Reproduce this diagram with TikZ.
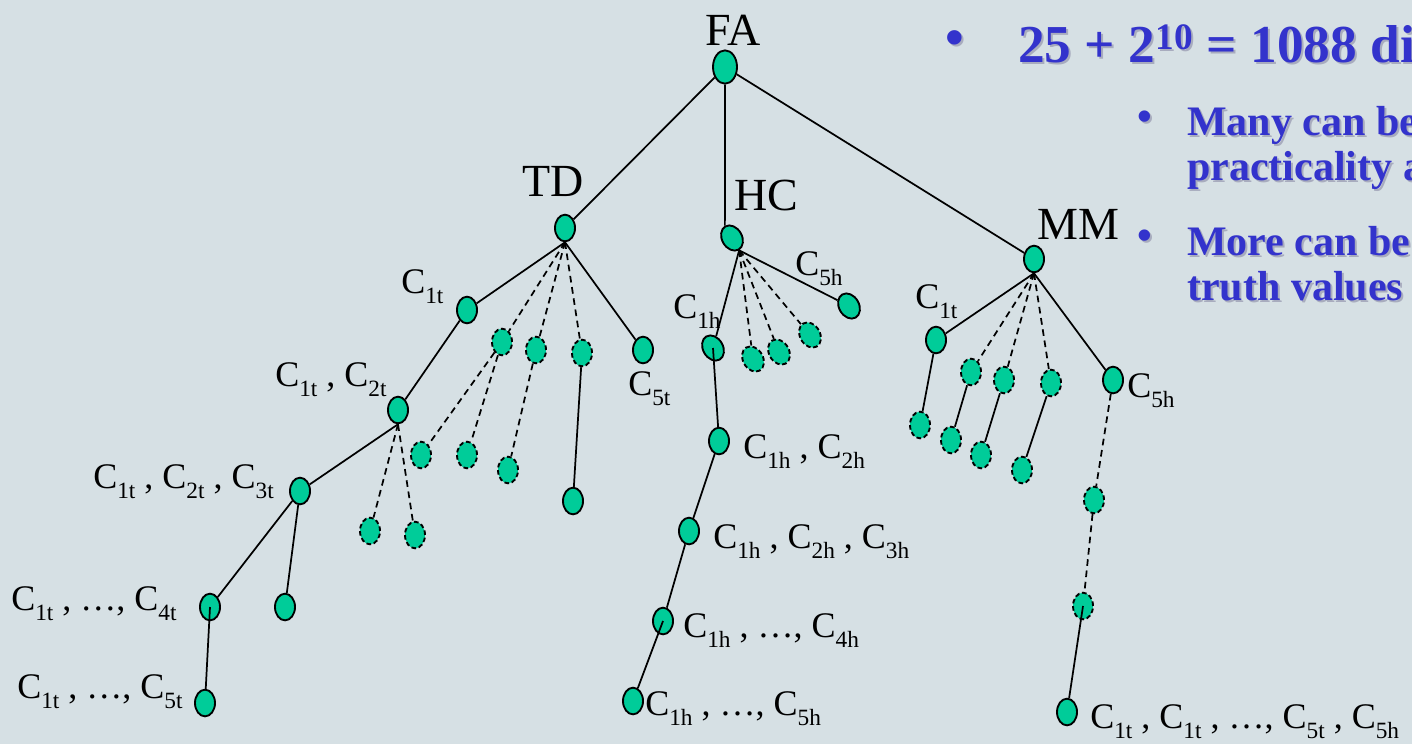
\documentclass[tikz,border=0pt]{standalone}
\usepackage{fontspec}
\setmainfont{Liberation Serif}
\usetikzlibrary{shapes.geometric}
\definecolor{slide}{RGB}{214,224,228}
\definecolor{leafgreen}{RGB}{0,204,153}
\definecolor{titleblue}{RGB}{51,51,204}
\definecolor{shadowgray}{RGB}{168,172,190}
% C with a low subscript
\newcommand{\csub}[1]{C\raisebox{-8pt}{\fontsize{17.5}{17.5}\selectfont #1}}
\tikzset{
  leaf/.style={ellipse, draw, fill=leafgreen, line width=1.4pt, inner sep=0pt, minimum width=15pt, minimum height=20pt},
  dleaf/.style={leaf, dash pattern=on 3.5pt off 2pt},
  edge/.style={line width=1.3pt},
  dedge/.style={edge, dash pattern=on 5pt off 3.5pt},
  tag/.style={inner sep=0pt, anchor=base west, font=\fontsize{27}{30}\selectfont},
  head/.style={inner sep=0pt, font=\fontsize{34.5}{38}\selectfont},
  point/.style={inner sep=0pt, font=\fontsize{40}{43}\bfseries\selectfont},
  subpoint/.style={inner sep=0pt, font=\fontsize{31.5}{34}\bfseries\selectfont},
}
\begin{document}
\begin{tikzpicture}[x=0.75pt,y=0.75pt,yscale=-1,xscale=1]
\clip (0,0) rectangle (1412,744);
\fill[slide] (0,0) rectangle (1412,744);

% tree nodes
\node[leaf, minimum width=18pt, minimum height=25pt] (fa) at (725,67) {};
\node[leaf] (td) at (565,228) {};
\node[leaf, rotate=30] (hc) at (732,238) {};
\node[leaf] (mm) at (1034,259) {};

\node[leaf] (t1) at (467,310) {};
\node[dleaf] (t2) at (502,342) {};
\node[dleaf] (t3) at (536,350) {};
\node[dleaf] (t4) at (582,353) {};
\node[leaf] (t5) at (643,350) {};
\node[leaf] (t12) at (398,410) {};
\node[dleaf] (t23) at (421,455) {};
\node[dleaf] (t24) at (467,455) {};
\node[dleaf] (t34) at (508,470) {};
\node[leaf] (t45) at (573,501) {};
\node[leaf] (t123) at (300,491) {};
\node[dleaf] (t13) at (370,531) {};
\node[dleaf] (t14) at (415,535) {};
\node[leaf] (t1234) at (210,607) {};
\node[leaf] (t124) at (285,607) {};
\node[leaf] (t12345) at (205,703) {};

\node[leaf, rotate=30] (h1) at (713,348) {};
\node[dleaf, rotate=30] (h2) at (753,359) {};
\node[dleaf, rotate=30] (h3) at (779,352) {};
\node[dleaf, rotate=30] (h4) at (810,335) {};
\node[leaf, rotate=30] (h5) at (849,306) {};
\node[leaf] (h12) at (719,441) {};
\node[leaf] (h123) at (689,531) {};
\node[leaf] (h1234) at (663,621) {};
\node[leaf] (h12345) at (633,701) {};

\node[leaf] (m1) at (936,340) {};
\node[dleaf] (m2) at (971,372) {};
\node[dleaf] (m3) at (1004,380) {};
\node[dleaf] (m4) at (1051,383) {};
\node[leaf] (m5) at (1113,380) {};
\node[dleaf] (m1x) at (920,425) {};
\node[dleaf] (m2x) at (951,440) {};
\node[dleaf] (m3x) at (981,455) {};
\node[dleaf] (m4x) at (1022,470) {};
\node[dleaf] (m5a) at (1094,500) {};
\node[dleaf] (m5b) at (1083,606) {};
\node[leaf] (mall) at (1067,712) {};

% connectors
\draw[edge] (fa) -- (td);
\draw[edge] (fa.south) -- (hc.north);
\draw[edge] (fa) -- (mm);

\draw[edge] (td.south) -- (t1);
\draw[dedge] (td.south) -- (t2);
\draw[dedge] (td.south) -- (t3);
\draw[dedge] (td.south) -- (t4);
\draw[edge] (td.south) -- (t5);
\draw[edge] (t1) -- (t12);
\draw[dedge] (t2) -- (t23);
\draw[dedge] (t2) -- (t24);
\draw[dedge] (t3) -- (t34);
\draw[edge] (t4) -- (t45);
\draw[edge] (t12.south) -- (t123);
\draw[dedge] (t12.south) -- (t13);
\draw[dedge] (t12.south) -- (t14);
\draw[edge] (t123) -- (t1234);
\draw[edge] (t123) -- (t124);
\draw[edge] (t1234.center) -- (t12345);

\draw[edge] (hc.south) -- (h1);
\draw[dedge] (hc.south) -- (h2);
\draw[dedge] (hc.south) -- (h3);
\draw[dedge] (hc.south) -- (h4);
\draw[edge] (hc.south) -- (h5);
\draw[edge] (h1.center) -- (h12);
\draw[edge] (h12) -- (h123);
\draw[edge] (h123) -- (h1234);
\draw[edge] (h1234.center) -- (h12345);

\draw[edge] (mm.south) -- (m1);
\draw[dedge] (mm.south) -- (m2);
\draw[dedge] (mm.south) -- (m3);
\draw[dedge] (mm.south) -- (m4);
\draw[edge] (mm.south) -- (m5);
\draw[edge] (m1) -- (m1x);
\draw[edge] (m2) -- (m2x);
\draw[edge] (m3) -- (m3x);
\draw[edge] (m4) -- (m4x);
\draw[dedge] (m5) -- (m5a);
\draw[dedge] (m5a) -- (m5b);
\draw[edge] (m5b.center) -- (mall);

% labels
\node[head] (lfa) at (733,30) {FA};
\node[head] (ltd) at (553,181) {TD};
\node[head] (lhc) at (766,195) {HC};
\node[head] (lmm) at (1078,224) {MM};

\node[tag] (lt1) at (401,293) {\csub{1t}};
\node[tag] (lt12) at (275,386) {\csub{1t} , \csub{2t}};
\node[tag] (lt123) at (93,488) {\csub{1t} , \csub{2t} , \csub{3t}};
\node[tag] (lt1234) at (11,610) {\csub{1t} , \ldots, \csub{4t}};
\node[tag] (lt12345) at (17,698) {\csub{1t} , \ldots, \csub{5t}};
\node[tag] (lt5) at (628,395) {\csub{5t}};

\node[tag] (lh1) at (673,318) {\csub{1h}};
\node[tag] (lh5) at (795,275) {\csub{5h}};
\node[tag] (lh12) at (743,458) {\csub{1h} , \csub{2h}};
\node[tag] (lh123) at (713,548) {\csub{1h} , \csub{2h} , \csub{3h}};
\node[tag] (lh1234) at (683,637) {\csub{1h} , \ldots, \csub{4h}};
\node[tag] (lh12345) at (645,715) {\csub{1h} , \ldots, \csub{5h}};

\node[tag] (lm1) at (915,308) {\csub{1t}};
\node[tag] (lm5) at (1127,397) {\csub{5h}};
\node[tag] (lmall) at (1090,728) {\csub{1t} , \csub{1t} , \ldots, \csub{5t} , \csub{5h}};

% bullet text with its drop shadow
\foreach \col/\d in {shadowgray/2, titleblue/0} {
  \node[point, text=\col] (b1\col) at (955+\d,43+\d) {\textbullet};
  \node[point, text=\col, anchor=base west] (s1\col) at (1018+\d,62+\d) {25 + 2\textsuperscript{10} = 1088 di};
  \node[subpoint, text=\col] (b2\col) at (1145+\d,121+\d) {\textbullet};
  \node[subpoint, text=\col, anchor=base west] (s2\col) at (1187+\d,135+\d) {Many can be};
  \node[subpoint, text=\col, anchor=base west] (s3\col) at (1187+\d,180+\d) {practicality a};
  \node[subpoint, text=\col] (b3\col) at (1145+\d,240+\d) {\textbullet};
  \node[subpoint, text=\col, anchor=base west] (s4\col) at (1187+\d,255+\d) {More can be};
  \node[subpoint, text=\col, anchor=base west] (s5\col) at (1187+\d,300+\d) {truth values};
}
\end{tikzpicture}
\end{document}
